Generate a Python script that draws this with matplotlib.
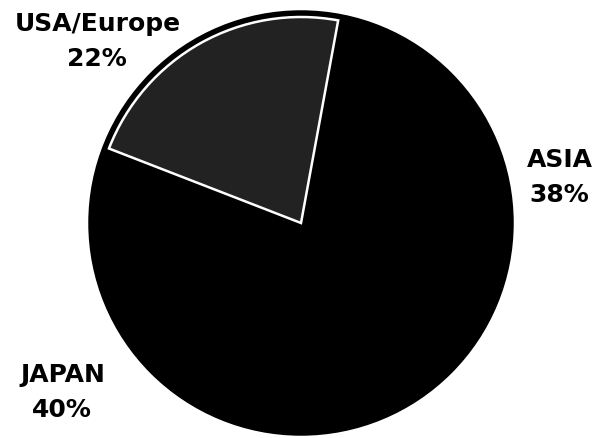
import matplotlib
matplotlib.use('Agg')
import matplotlib.pyplot as plt
from matplotlib.patches import Circle

# region shares, counterclockwise from the top edge of USA/Europe
regions = ['USA/Europe', 'JAPAN', 'ASIA']
shares = [22, 40, 38]
pcts = ['22%', '40%', '38%']

W, H = 596, 439
fig = plt.figure(figsize=(W / 100, H / 100), dpi=100)
ax = fig.add_axes([0, 0, 1, 1])

cx, cy, r = 301, 215, 211
# black disc underneath so no seams show between the black slices
ax.add_patch(Circle((cx, cy), r, facecolor='black', edgecolor='black',
                    linewidth=2.5, zorder=0))
wedges, _ = ax.pie(shares, center=(cx, cy), radius=r, startangle=79.6,
                   counterclock=True, colors=['#222222', 'black', 'black'],
                   wedgeprops=dict(linewidth=1.2, edgecolor='black'), frame=True)
ax.axis('off')
ax.set_xlim(0, W)
ax.set_ylim(0, H)
ax.set_aspect('equal')

# scanned look: USA/Europe slice inset a little, with a white outline
usa = wedges[0]
usa.set_radius(r - 5)
usa.set_edgecolor('white')
usa.set_linewidth(1.8)
usa.set_zorder(3)

font = dict(family='DejaVu Sans', fontweight='bold', fontsize=18,
            ha='center', va='center', color='black')
label_pos = {'USA/Europe': (98, 415), 'JAPAN': (63, 64), 'ASIA': (560, 279)}
for name, pct in zip(regions, pcts):
    x, y = label_pos[name]
    ax.text(x, y, name, **font)
    ax.text(x - 1, y - 35, pct, **font)

fig.savefig('out.png', dpi=100)
